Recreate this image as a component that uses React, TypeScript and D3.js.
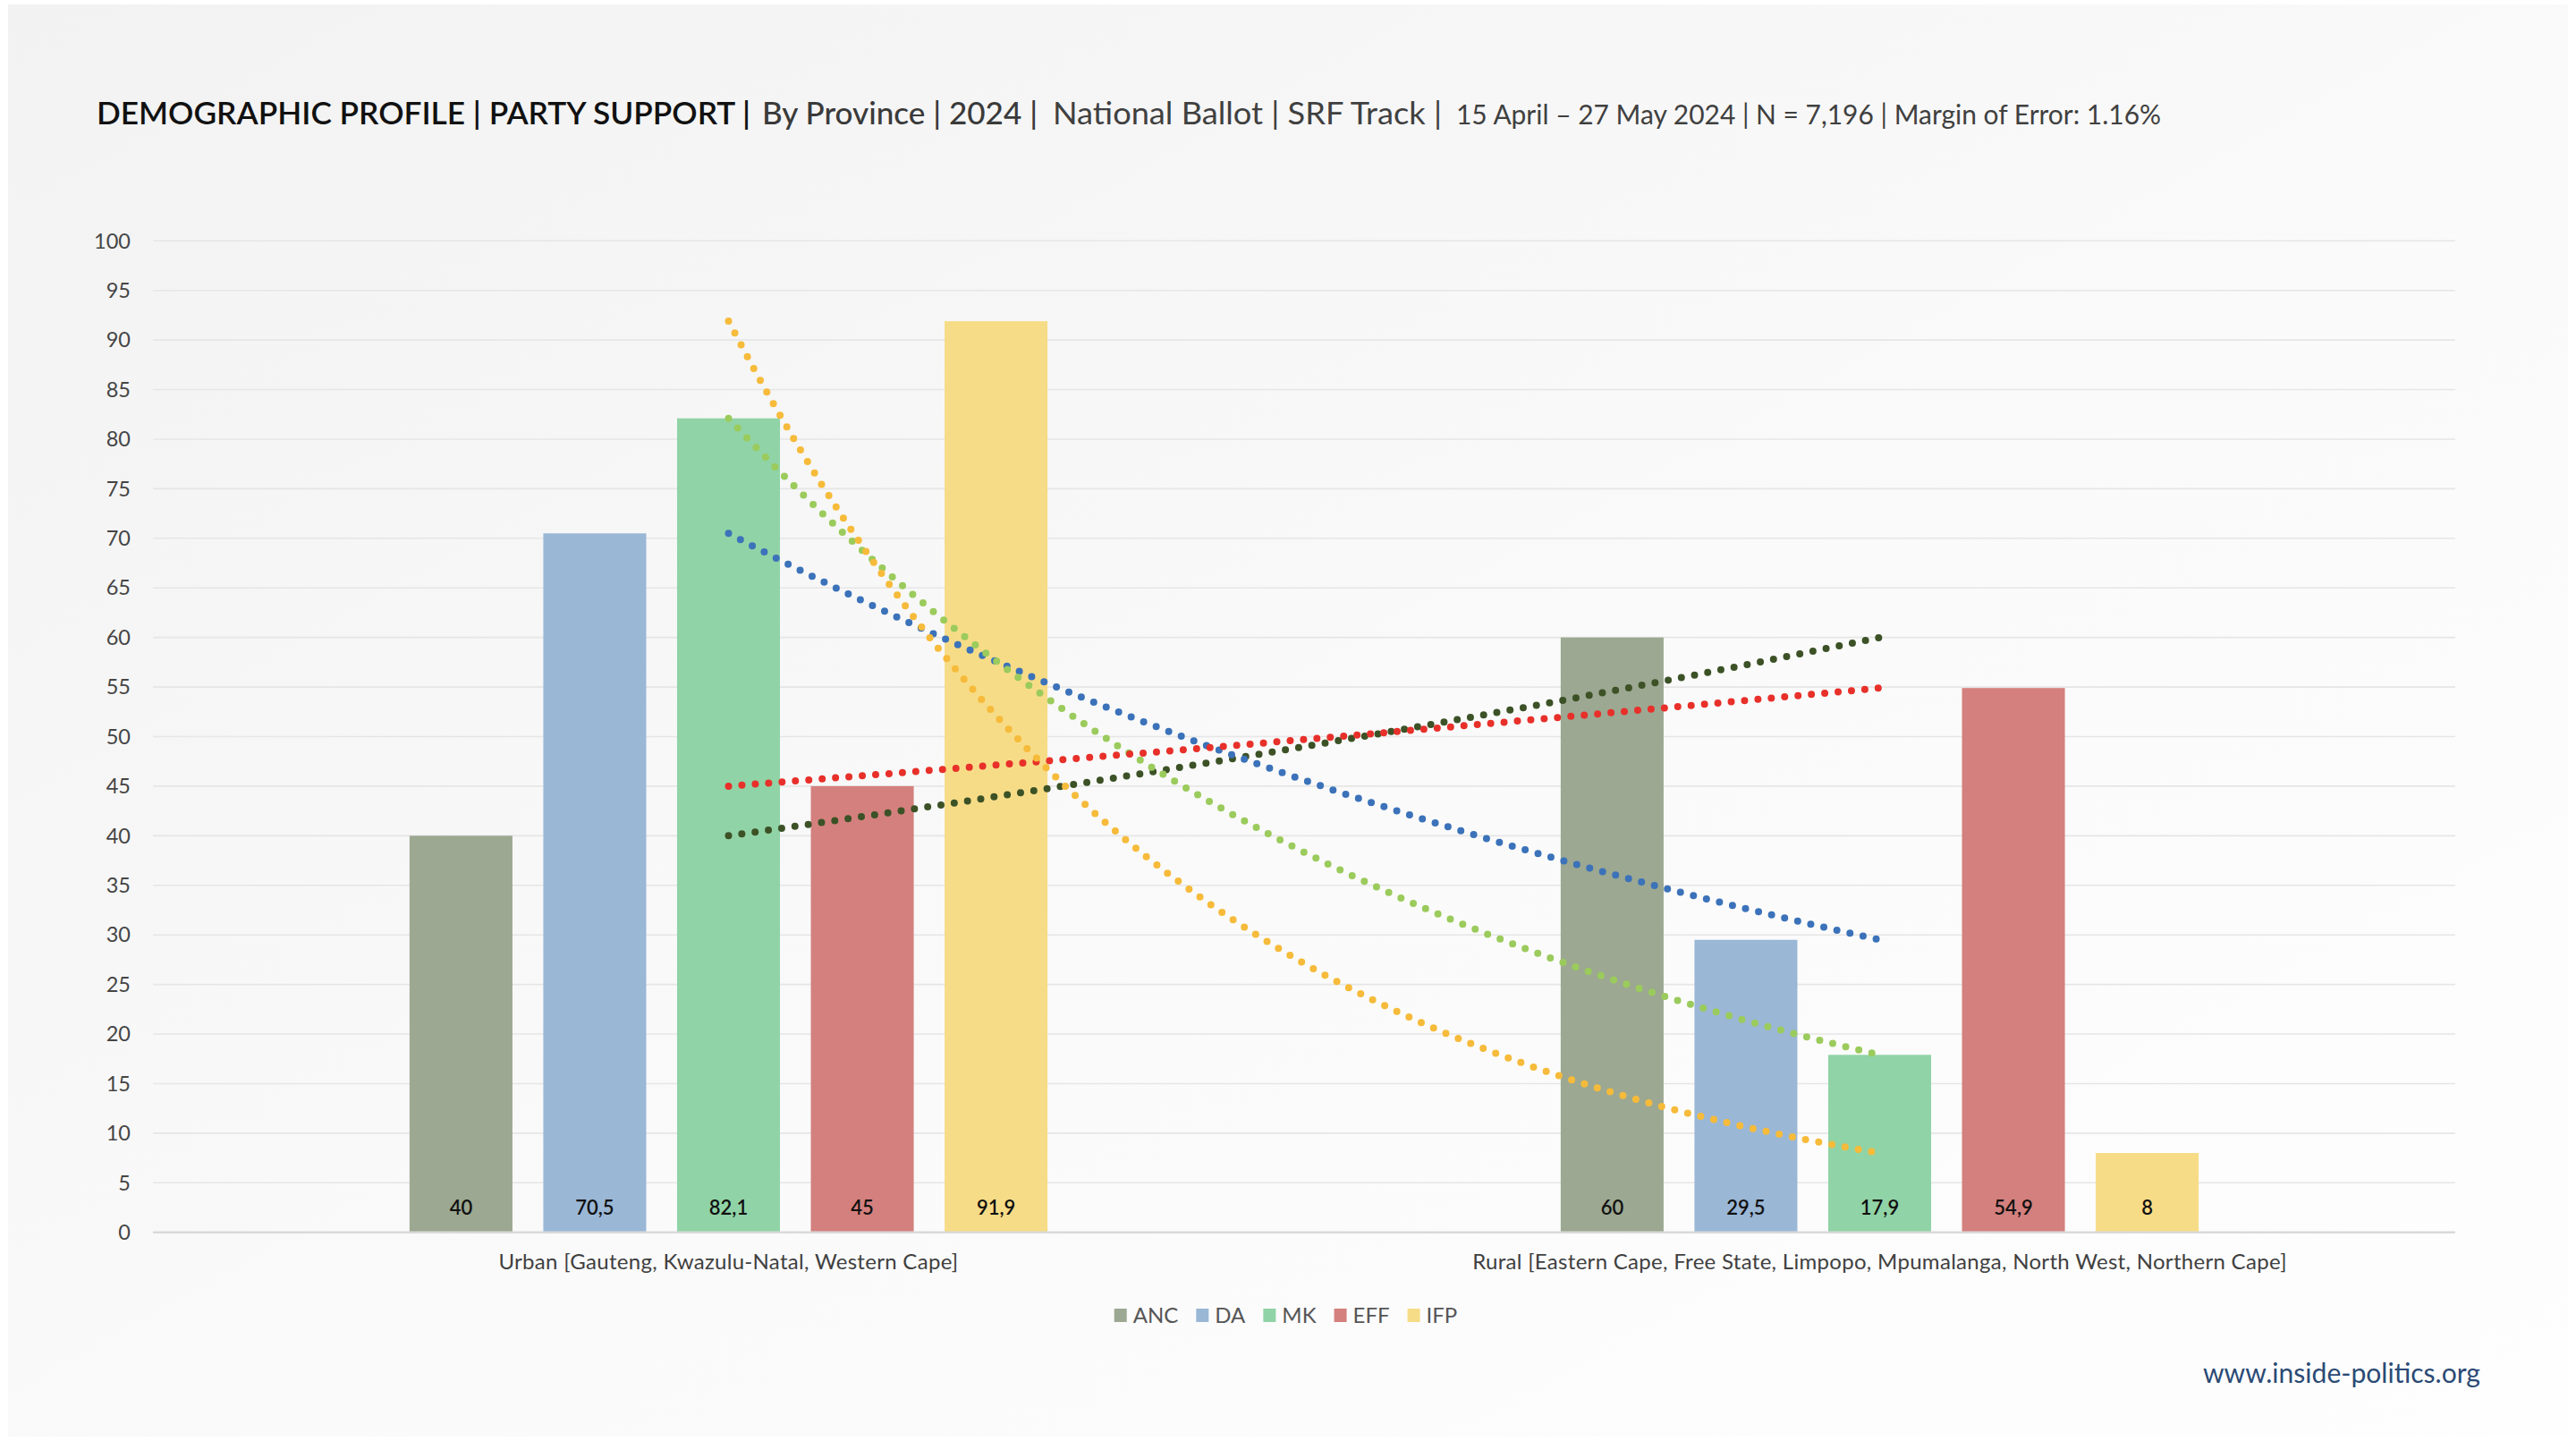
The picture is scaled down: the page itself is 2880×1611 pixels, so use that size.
import React, { useRef, useEffect } from 'react';
import * as d3 from 'd3';

// Party support by area type (%)
const categories = [
  'Urban [Gauteng, Kwazulu-Natal, Western Cape]',
  'Rural [Eastern Cape, Free State, Limpopo, Mpumalanga, North West, Northern Cape]',
];
const parties = ['ANC', 'DA', 'MK', 'EFF', 'IFP'];
const urbanValues = [40, 70.5, 82.1, 45, 91.9];
const ruralValues = [60, 29.5, 17.9, 54.9, 8];
const barColors = ['#9ca891', '#9ab7d6', '#90d3a6', '#d4807e', '#f7dc87'];
const trendColors = ['#3c5226', '#3b72b9', '#9bcb5c', '#e8302a', '#f6bb3a'];
const yTicks = d3.range(0, 101, 5);

const titleParts = [
  { text: 'DEMOGRAPHIC PROFILE | PARTY SUPPORT |', x: 108, len: 731, size: 35, weight: 600, fill: '#111' },
  { text: 'By Province | 2024 |', x: 852, len: 308, size: 35, weight: 500, fill: '#3a3a3a' },
  { text: 'National Ballot | SRF Track |', x: 1177, len: 435, size: 35, weight: 400, fill: '#404040' },
  { text: '15 April – 27 May 2024 | N = 7,196 | Margin of Error: 1.16%', x: 1628, len: 788, size: 31, weight: 400, fill: '#404040' },
];

const W = 2880;
const H = 1611;
const FONT = 'Lato, "Open Sans", sans-serif';

const App: React.FC = () => {
  const svgRef = useRef<SVGSVGElement>(null);

  useEffect(() => {
    if (!svgRef.current) return;
    const svg = d3.select(svgRef.current);
    svg.selectAll('*').remove();

    const margin = { left: 171, right: 135, top: 269.3, bottom: 233.3 };

    // background card
    const defs = svg.append('defs');
    const grad = defs.append('linearGradient').attr('id', 'bg').attr('x1', 0).attr('y1', 0).attr('x2', 1).attr('y2', 1);
    grad.append('stop').attr('offset', '0%').attr('stop-color', '#f2f2f2');
    grad.append('stop').attr('offset', '55%').attr('stop-color', '#fafafa');
    grad.append('stop').attr('offset', '100%').attr('stop-color', '#fefefe');
    svg.append('rect').attr('width', W).attr('height', H).attr('fill', '#ffffff');
    svg.append('rect').attr('x', 9).attr('y', 5).attr('width', 2862).attr('height', 1601).attr('fill', 'url(#bg)');

    // title
    titleParts.forEach(p => {
      svg.append('text')
        .attr('x', p.x)
        .attr('y', 139)
        .attr('font-family', FONT)
        .attr('font-size', p.size)
        .attr('font-weight', p.weight)
        .attr('fill', p.fill)
        .attr('textLength', p.len)
        .attr('lengthAdjust', 'spacingAndGlyphs')
        .text(p.text);
    });

    const x0 = d3.scaleBand<string>()
      .domain(categories)
      .range([margin.left, W - margin.right]);

    const groupFrac = 0.581;
    const x1 = d3.scaleBand<string>()
      .domain(parties)
      .range([x0.bandwidth() * (1 - groupFrac) / 2, x0.bandwidth() * (1 + groupFrac) / 2])
      .paddingInner(0.2308)
      .paddingOuter(0.1154);

    const y = d3.scaleLinear()
      .domain([0, 100])
      .range([H - margin.bottom, margin.top]);

    // gridlines
    svg.append('g')
      .selectAll('line')
      .data(yTicks.filter(t => t > 0))
      .enter()
      .append('line')
      .attr('x1', margin.left)
      .attr('x2', W - margin.right)
      .attr('y1', d => y(d))
      .attr('y2', d => y(d))
      .attr('stroke', '#e6e6e6')
      .attr('stroke-width', 1.6);

    // y tick labels
    svg.append('g')
      .selectAll('text')
      .data(yTicks)
      .enter()
      .append('text')
      .attr('x', 146)
      .attr('y', d => y(d))
      .attr('dy', '0.35em')
      .attr('text-anchor', 'end')
      .attr('font-family', FONT)
      .attr('font-size', 23.5)
      .attr('fill', '#454545')
      .text(d => d);

    const rows = categories.map((c, i) => ({
      cat: c,
      values: i === 0 ? urbanValues : ruralValues,
    }));

    // bars
    const groups = svg.append('g')
      .selectAll('g')
      .data(rows)
      .enter()
      .append('g')
      .attr('transform', d => `translate(${x0(d.cat)},0)`);

    groups.selectAll('rect')
      .data(d => d.values.map((v, j) => ({ party: parties[j], v, j })))
      .enter()
      .append('rect')
      .attr('x', d => x1(d.party)!)
      .attr('width', x1.bandwidth())
      .attr('y', d => y(d.v))
      .attr('height', d => y(0) - y(d.v))
      .attr('fill', d => barColors[d.j]);

    // data labels inside bars
    groups.selectAll('text.val')
      .data(d => d.values.map((v, j) => ({ party: parties[j], v })))
      .enter()
      .append('text')
      .attr('class', 'val')
      .attr('x', d => x1(d.party)! + x1.bandwidth() / 2)
      .attr('y', y(0) - 20)
      .attr('text-anchor', 'middle')
      .attr('font-family', FONT)
      .attr('font-size', 22)
      .attr('font-weight', 600)
      .attr('fill', '#111')
      .text(d => String(d.v).replace('.', ','));

    // baseline
    svg.append('line')
      .attr('x1', margin.left)
      .attr('x2', W - margin.right)
      .attr('y1', y(0))
      .attr('y2', y(0))
      .attr('stroke', '#d9d9d9')
      .attr('stroke-width', 2.5);

    // category labels
    svg.append('g')
      .selectAll('text')
      .data(categories)
      .enter()
      .append('text')
      .attr('x', d => x0(d)! + x0.bandwidth() / 2)
      .attr('y', 1419)
      .attr('text-anchor', 'middle')
      .attr('font-family', FONT)
      .attr('font-size', 24)
      .attr('letter-spacing', 0.3)
      .attr('fill', '#404040')
      .text(d => d);

    // exponential trendlines between category centres (Excel style dotted)
    const xa = x0(categories[0])! + x0.bandwidth() / 2;
    const xb = x0(categories[1])! + x0.bandwidth() / 2;
    const line = d3.line<[number, number]>().x(d => d[0]).y(d => d[1]);
    const steps = d3.range(0, 1.0001, 0.02);
    parties.forEach((p, j) => {
      const a = urbanValues[j];
      const b = ruralValues[j];
      const pts: [number, number][] = steps.map(t => [xa + t * (xb - xa), y(a * Math.pow(b / a, t))]);
      svg.append('path')
        .attr('d', line(pts)!)
        .attr('fill', 'none')
        .attr('stroke', trendColors[j])
        .attr('stroke-width', 8)
        .attr('stroke-linecap', 'round')
        .attr('stroke-dasharray', '0 15');
    });

    // legend
    const legend = svg.append('g').attr('transform', 'translate(0,1463)');
    let cx = 0;
    const items = legend.selectAll('g')
      .data(parties)
      .enter()
      .append('g');
    items.append('rect')
      .attr('width', 14)
      .attr('height', 15)
      .attr('fill', (d, i) => barColors[i]);
    items.append('text')
      .attr('x', 21)
      .attr('y', 7.5)
      .attr('dy', '0.36em')
      .attr('font-family', FONT)
      .attr('font-size', 24)
      .attr('fill', '#555')
      .text(d => d);
    items.each(function () {
      const g = d3.select(this);
      const tw = (g.select('text').node() as SVGTextElement).getComputedTextLength();
      g.attr('transform', `translate(${cx},0)`);
      cx += 21 + tw + 20;
    });
    const total = cx - 20;
    legend.attr('transform', `translate(${1437.5 - total / 2},1463)`);

    // source url
    svg.append('text')
      .attr('x', 2773)
      .attr('y', 1546)
      .attr('text-anchor', 'end')
      .attr('font-family', FONT)
      .attr('font-size', 30)
      .attr('fill', '#2b4a75')
      .attr('textLength', 310)
      .attr('lengthAdjust', 'spacingAndGlyphs')
      .text('www.inside-politics.org');
  }, []);

  return (
    <svg
      ref={svgRef}
      width={W}
      height={H}
      viewBox={`0 0 ${W} ${H}`}
      style={{ position: 'fixed', left: 0, top: 0 }}
    />
  );
};

export default App;
